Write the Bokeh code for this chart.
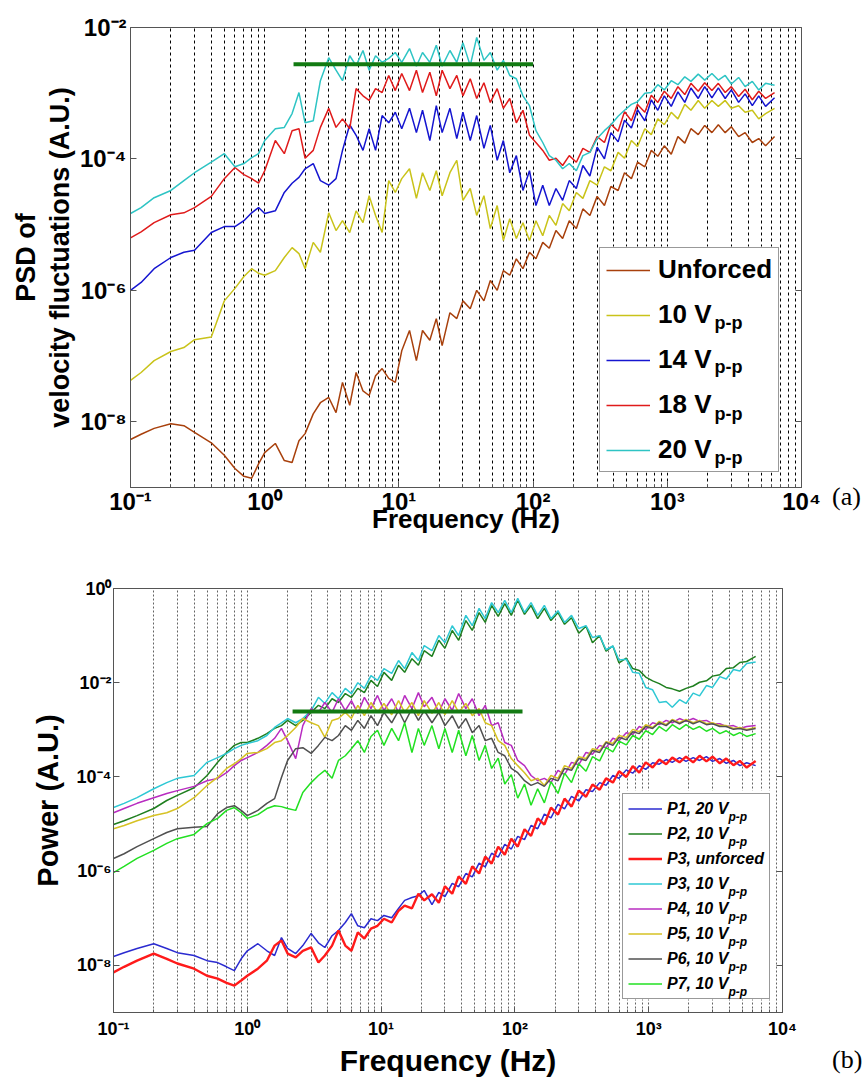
import numpy as np
from bokeh.plotting import figure
from bokeh.models import (Range1d, FixedTicker, CustomJSTickFormatter, LogAxis,
                          Legend, LegendItem, Label, Div, BoxAnnotation)
from bokeh.embed import file_html
from bokeh.resources import INLINE

# ---------------- data (frequency in Hz, spectra as log10 of the value) ----------------
freq_hz = [0.1, 0.12, 0.15, 0.2, 0.25, 0.3, 0.4, 0.5, 0.6, 0.7, 0.8, 0.9, 1.0, 1.2, 1.4, 1.6,
           1.8, 2.0, 2.3, 2.6, 3.0, 3.4, 3.8, 4.3, 4.8, 5.4, 6.0, 6.7, 7.5, 8.4, 9.4, 10.5,
           12, 13.5, 15, 17, 19, 21, 24, 27, 30, 34, 38, 43, 48, 54, 60, 67, 75, 84, 94,
           105, 118, 132, 148, 166, 186, 210, 235, 265, 300, 340, 380, 430, 480, 540, 600,
           680, 760, 850, 950, 1070, 1200, 1350, 1500, 1700, 1900, 2150, 2400, 2700, 3000,
           3400, 3800, 4300, 4800, 5400, 6300]

# panel (a): PSD of velocity fluctuations, log10
a_unforced = [-8.27, -8.19, -8.10, -8.03, -8.06, -8.16, -8.32, -8.51, -8.71, -8.83, -8.86, -8.64,
              -8.47, -8.33, -8.59, -8.62, -8.29, -8.18, -7.88, -7.71, -7.63, -7.86, -7.40, -7.75,
              -7.25, -7.53, -7.60, -7.30, -7.19, -7.34, -7.40, -6.92, -6.61, -7.07, -6.61, -6.76,
              -6.43, -6.84,
              -6.34, -6.43, -6.16, -6.28, -6.00, -6.16, -5.85, -6.00, -5.70, -5.77,
              -5.52, -5.67, -5.42, -5.52, -5.27, -5.36, -5.09, -5.21, -4.94, -5.06,
              -4.76, -4.86, -4.57, -4.71, -4.42, -4.48, -4.21, -4.30, -4.05, -4.12,
              -3.87, -3.96, -3.80, -3.93, -3.66, -3.76, -3.54, -3.63, -3.49, -3.60,
              -3.48, -3.60, -3.51, -3.66, -3.60, -3.75, -3.69, -3.80, -3.66]
a_10v = [-7.37, -7.25, -7.07, -6.93, -6.87, -6.75, -6.71, -6.16, -5.97, -5.79, -5.67, -5.74,
         -5.77, -5.70, -5.50, -5.35, -5.44, -5.67, -5.27, -5.42, -4.82, -5.09, -4.94, -5.12,
         -4.79, -4.97, -4.56, -4.86, -5.12, -4.33, -4.51, -4.30, -4.15, -4.60, -4.21, -4.48,
         -4.18, -4.56,
         -4.21, -4.02, -4.63, -4.45, -4.86, -4.56, -5.06, -4.71, -5.24, -4.91,
         -5.21, -4.97, -5.24, -4.94, -5.17, -4.86, -5.01, -4.68, -4.79, -4.51,
         -4.60, -4.33, -4.40, -4.12, -4.18, -3.90, -3.99, -3.72, -3.81, -3.54,
         -3.63, -3.39, -3.48, -3.29, -3.39, -3.17, -3.26, -3.11, -3.23, -3.11,
         -3.20, -3.11, -3.23, -3.19, -3.29, -3.26, -3.39, -3.31, -3.23]
a_14v = [-6.00, -5.88, -5.67, -5.50, -5.42, -5.39, -5.12, -5.03, -5.03, -4.94, -4.82, -4.74,
         -4.83, -4.79, -4.51, -4.37, -4.28, -4.15, -4.07, -4.33, -4.40, -4.30, -3.87, -3.48,
         -3.64, -3.87, -3.54, -3.87, -3.34, -3.45, -3.29, -3.54, -3.23, -3.60, -3.26, -3.72,
         -3.19, -3.60,
         -3.23, -3.69, -3.29, -3.72, -3.34, -3.84, -3.49, -4.02, -3.72, -4.21,
         -3.95, -4.48, -4.18, -4.71, -4.40, -4.71, -4.45, -4.63, -4.33, -4.45,
         -4.10, -4.26, -3.82, -4.00, -3.60, -3.74, -3.41, -3.53, -3.25, -3.42,
         -3.10, -3.26, -3.04, -3.20, -2.98, -3.14, -2.92, -3.08, -2.90, -3.07,
         -2.92, -3.08, -2.95, -3.14, -3.01, -3.19, -3.04, -3.20, -3.07]
a_18v = [-5.20, -5.11, -4.97, -4.85, -4.82, -4.74, -4.57, -4.30, -4.13, -4.24, -4.30, -4.37,
         -4.18, -3.72, -3.92, -3.57, -3.54, -3.99, -3.87, -3.52, -3.23, -3.52, -3.39, -3.54,
         -2.93, -3.04, -3.11, -2.93, -2.99, -2.73, -2.96, -2.70, -2.96, -2.65, -2.99, -2.68,
         -3.04, -2.65,
         -2.93, -2.73, -3.04, -2.78, -3.08, -2.84, -3.14, -2.93, -3.23, -3.08,
         -3.45, -3.26, -3.64, -3.75, -3.87, -4.02, -3.99, -4.10, -3.95, -4.05,
         -3.84, -3.90, -3.66, -3.75, -3.47, -3.58, -3.28, -3.42, -3.17, -3.29,
         -3.03, -3.14, -2.97, -3.08, -2.90, -3.02, -2.85, -2.97, -2.84, -2.96,
         -2.85, -2.99, -2.90, -3.05, -2.94, -3.10, -2.97, -3.08, -2.99]
a_20v = [-4.83, -4.74, -4.59, -4.48, -4.33, -4.21, -4.05, -3.92, -4.12, -4.07, -3.98, -3.92,
         -3.72, -3.54, -3.52, -3.31, -2.99, -3.45, -3.42, -2.81, -2.46, -2.65, -2.81, -2.43,
         -2.58, -2.35, -2.65, -2.43, -2.53, -2.47, -2.38, -2.53, -2.32, -2.59, -2.38, -2.53,
         -2.27, -2.59,
         -2.35, -2.53, -2.23, -2.58, -2.15, -2.50, -2.38, -2.65, -2.50, -2.73,
         -2.78, -3.04, -3.19, -3.57, -3.75, -3.95, -4.02, -4.15, -4.07, -4.18,
         -3.95, -3.90, -3.69, -3.57, -3.48, -3.35, -3.26, -3.17, -3.13, -3.00,
         -2.99, -2.87, -2.95, -2.81, -2.87, -2.75, -2.82, -2.71, -2.80, -2.70,
         -2.80, -2.73, -2.86, -2.76, -2.90, -2.82, -2.95, -2.85, -2.88]
a_plateau_hz = [1.64, 100.0]
a_plateau_psd = [2.75e-3, 2.75e-3]

# panel (b): power, log10
b_p1_20v = [-7.81, -7.73, -7.64, -7.54, -7.64, -7.73, -7.79, -7.90, -7.94, -8.03, -8.11, -7.86,
            -7.69, -7.54, -7.69, -7.79, -7.41, -7.64, -7.75, -7.58, -7.32, -7.52, -7.62, -7.37,
            -7.26, -7.09, -6.90, -7.16, -7.20, -7.01, -7.05, -6.94, -6.99, -6.79, -6.62, -6.56,
            -6.52, -6.41,
            -6.71, -6.45, -6.54, -6.26, -6.33, -6.05, -6.12, -5.83, -5.91, -5.62,
            -5.70, -5.43, -5.53, -5.26, -5.33, -5.03, -5.10, -4.79, -4.87, -4.58,
            -4.68, -4.41, -4.51, -4.27, -4.31, -4.12, -4.18, -3.97, -4.03, -3.85,
            -3.92, -3.76, -3.84, -3.70, -3.73, -3.63, -3.69, -3.59, -3.67, -3.59,
            -3.65, -3.57, -3.67, -3.61, -3.71, -3.65, -3.76, -3.70, -3.76]
b_p2_10v = [-5.01, -4.93, -4.82, -4.67, -4.50, -4.39, -4.23, -3.97, -3.69, -3.48, -3.33, -3.27,
            -3.27, -3.18, -3.08, -2.97, -2.91, -2.80, -2.91, -2.80, -2.63, -2.48, -2.55, -2.34,
            -2.42, -2.23, -2.31, -2.12, -2.21, -1.95, -2.08, -1.78, -1.95, -1.63, -1.78, -1.49,
            -1.63, -1.32,
            -1.44, -1.10, -1.27, -0.89, -1.10, -0.68, -0.89, -0.51, -0.72, -0.36,
            -0.59, -0.32, -0.57, -0.25, -0.55, -0.36, -0.64, -0.42, -0.68, -0.51,
            -0.76, -0.62, -0.95, -0.80, -1.15, -1.00, -1.33, -1.22, -1.58, -1.48,
            -1.70, -1.74, -1.88, -1.96, -2.02, -2.10, -2.13, -2.18, -2.12, -2.07,
            -1.99, -1.96, -1.86, -1.83, -1.70, -1.68, -1.57, -1.55, -1.44]
b_p3_unforced = [-8.15, -8.03, -7.90, -7.75, -7.86, -7.96, -8.07, -8.22, -8.28, -8.37, -8.43,
                 -8.32, -8.22, -8.07, -7.90, -7.58, -7.47, -7.75, -7.83, -7.69, -7.62, -7.94,
                 -7.79, -7.58, -7.26, -7.58, -7.69, -7.30, -7.43, -7.22, -7.16, -7.01, -7.09,
                 -6.84, -6.73, -6.79, -6.48, -6.62,
                 -6.49, -6.67, -6.32, -6.48, -6.11, -6.27, -5.90, -6.05, -5.69, -5.84,
                 -5.48, -5.65, -5.31, -5.48, -5.11, -5.25, -4.88, -5.01, -4.65, -4.80,
                 -4.46, -4.63, -4.29, -4.42, -4.16, -4.27, -4.03, -4.12, -3.88, -4.00,
                 -3.77, -3.91, -3.69, -3.80, -3.63, -3.73, -3.59, -3.69, -3.57, -3.69,
                 -3.55, -3.67, -3.57, -3.71, -3.61, -3.75, -3.66, -3.80, -3.66]
b_p3_10v = [-4.65, -4.56, -4.44, -4.25, -4.12, -4.03, -3.97, -3.69, -3.59, -3.50, -3.40, -3.33,
            -3.29, -3.23, -3.12, -2.95, -2.85, -2.76, -2.85, -2.76, -2.59, -2.31, -2.44, -2.21,
            -2.34, -2.12, -2.23, -2.00, -2.12, -1.85, -1.95, -1.70, -1.80, -1.53, -1.70, -1.36,
            -1.53, -1.21,
            -1.32, -1.00, -1.15, -0.79, -1.00, -0.57, -0.79, -0.42, -0.64, -0.30,
            -0.51, -0.25, -0.51, -0.21, -0.51, -0.30, -0.57, -0.36, -0.64, -0.47,
            -0.72, -0.57, -0.85, -0.79, -1.04, -1.00, -1.30, -1.22, -1.52, -1.50,
            -1.78, -1.80, -2.10, -2.15, -2.42, -2.40, -2.52, -2.36, -2.44, -2.22,
            -2.28, -2.06, -2.10, -1.87, -1.92, -1.72, -1.75, -1.59, -1.56]
b_p4_10v = [-4.76, -4.67, -4.56, -4.44, -4.35, -4.29, -4.20, -4.08, -4.03, -3.91, -3.76, -3.65,
            -3.59, -3.48, -3.33, -3.18, -2.97, -3.23, -3.61, -2.91, -2.55, -2.63, -2.42, -2.63,
            -2.34, -2.59, -2.38, -2.65, -2.31, -2.55, -2.27, -2.59, -2.34, -2.63, -2.27, -2.55,
            -2.21, -2.51,
            -2.31, -2.63, -2.34, -2.59, -2.23, -2.55, -2.34, -2.70, -2.48, -2.91,
            -2.85, -3.27, -3.33, -3.65, -3.76, -3.97, -4.08, -4.03, -4.12, -3.86,
            -3.95, -3.69, -3.74, -3.48, -3.52, -3.33, -3.38, -3.18, -3.23, -3.06,
            -3.10, -2.93, -2.99, -2.85, -2.89, -2.80, -2.85, -2.76, -2.82, -2.76,
            -2.82, -2.80, -2.87, -2.87, -2.93, -2.91, -2.97, -2.93, -2.91]
b_p5_10v = [-5.10, -5.03, -4.93, -4.82, -4.76, -4.67, -4.44, -4.18, -4.01, -3.82, -3.72, -3.61,
            -3.50, -3.48, -3.40, -3.27, -3.23, -3.12, -2.95, -2.76, -2.85, -2.91, -3.16, -2.80,
            -2.76, -2.63, -2.76, -2.48, -2.70, -2.42, -2.63, -2.44, -2.68, -2.38, -2.63, -2.42,
            -2.70, -2.38,
            -2.65, -2.42, -2.68, -2.38, -2.63, -2.44, -2.70, -2.55, -2.85, -2.91,
            -3.23, -3.33, -3.61, -3.76, -3.91, -4.08, -4.03, -4.18, -3.97, -4.03,
            -3.76, -3.82, -3.57, -3.61, -3.40, -3.44, -3.25, -3.29, -3.12, -3.16,
            -2.99, -3.04, -2.89, -2.95, -2.82, -2.89, -2.78, -2.85, -2.78, -2.85,
            -2.80, -2.87, -2.85, -2.91, -2.91, -2.97, -2.95, -2.99, -2.95]
b_p6_10v = [-5.73, -5.63, -5.48, -5.31, -5.18, -5.10, -5.07, -5.05, -4.78, -4.65, -4.61, -4.71,
            -4.82, -4.71, -4.56, -4.46, -4.01, -3.65, -3.40, -3.38, -3.50, -3.33, -3.16, -3.23,
            -3.12, -2.91, -3.01, -2.80, -2.97, -2.70, -2.91, -2.63, -2.85, -2.59, -2.85, -2.55,
            -2.80, -2.59,
            -2.85, -2.63, -2.91, -2.70, -2.97, -2.76, -3.06, -2.91, -3.23, -3.18,
            -3.48, -3.55, -3.82, -3.91, -4.08, -4.18, -4.12, -4.20, -4.03, -4.08,
            -3.82, -3.86, -3.61, -3.65, -3.44, -3.48, -3.27, -3.33, -3.16, -3.21,
            -3.04, -3.08, -2.93, -2.97, -2.85, -2.91, -2.80, -2.87, -2.80, -2.87,
            -2.82, -2.89, -2.87, -2.93, -2.93, -2.99, -2.97, -3.01, -2.97]
b_p7_10v = [-6.03, -5.90, -5.73, -5.56, -5.41, -5.31, -5.22, -4.99, -4.88, -4.71, -4.65, -4.76,
            -4.88, -4.80, -4.67, -4.61, -4.63, -4.67, -4.71, -4.33, -4.12, -3.97, -3.86, -4.03,
            -3.65, -3.55, -3.40, -3.23, -3.48, -3.14, -3.01, -3.33, -2.97, -3.23, -2.85, -3.48,
            -2.97, -3.33,
            -2.91, -3.40, -2.97, -3.48, -3.01, -3.55, -3.12, -3.65, -3.33, -3.82,
            -3.60, -4.15, -3.95, -4.45, -4.15, -4.60, -4.25, -4.55, -4.10, -4.35,
            -3.92, -4.12, -3.72, -3.88, -3.57, -3.66, -3.38, -3.47, -3.24, -3.32,
            -3.12, -3.20, -3.02, -3.10, -2.93, -3.03, -2.89, -2.99, -2.89, -2.99,
            -2.93, -3.03, -2.97, -3.08, -3.02, -3.12, -3.06, -3.14, -3.08]
b_plateau_hz = [2.18, 114.0]
b_plateau_power = [2.45e-3, 2.45e-3]

a_labels = ["Unforced", "10 V", "14 V", "18 V", "20 V"]
b_labels = ["P1, 20 V", "P2, 10 V", "P3, unforced", "P3, 10 V",
            "P4, 10 V", "P5, 10 V", "P6, 10 V", "P7, 10 V"]

x_major = [0.1, 1.0, 10.0, 100.0, 1000.0, 10000.0]
x_minor = [m * d for d in [0.1, 1.0, 10.0, 100.0, 1000.0] for m in range(2, 10)]
a_yticks = [1e-8, 1e-6, 1e-4, 1e-2]
b_yticks = [1e-8, 1e-6, 1e-4, 1e-2, 1e0]

FONT = "Liberation Sans"
SUP_JS = """
const e = Math.round(Math.log10(tick));
const m = {'-':'\u207b','0':'\u2070','1':'\u00b9','2':'\u00b2','3':'\u00b3','4':'\u2074',
           '5':'\u2075','6':'\u2076','7':'\u2077','8':'\u2078','9':'\u2079'};
let s = '';
for (const c of String(e)) { s += m[c]; }
return '10' + s;
"""


def style(p, yticks, tick_size, label_size_x, label_size_y, grid_color, grid_dash, grid_w,
          xs, ys, xls, yls, xlabel, ylabel):
    xt = FixedTicker(ticks=x_major, minor_ticks=x_minor)
    yt = FixedTicker(ticks=yticks, minor_ticks=[])
    xa = p.xaxis[0]
    ya = p.yaxis[0]
    xa.ticker = xt
    ya.ticker = yt
    p.xgrid.ticker = xt
    p.ygrid.visible = False
    p.xgrid.grid_line_color = grid_color
    p.xgrid.grid_line_dash = grid_dash
    p.xgrid.grid_line_width = grid_w
    p.xgrid.minor_grid_line_color = grid_color
    p.xgrid.minor_grid_line_dash = grid_dash
    p.xgrid.minor_grid_line_width = grid_w
    for ax in (xa, ya):
        ax.formatter = CustomJSTickFormatter(code=SUP_JS)
        ax.major_label_text_font = FONT
        ax.major_label_text_font_style = "bold"
        ax.major_label_text_font_size = tick_size
        ax.major_label_text_color = "black"
        ax.axis_label_text_font = FONT
        ax.axis_label_text_font_style = "bold"
        ax.axis_label_text_color = "black"
        ax.axis_line_color = "#555555"
        ax.major_tick_line_color = "#555555"
        ax.minor_tick_line_color = "#555555"
        ax.major_tick_in = 6
        ax.major_tick_out = 0
        ax.minor_tick_in = 3
        ax.minor_tick_out = 0
    ya.minor_tick_line_color = None
    xa.axis_label = xlabel
    ya.axis_label = ylabel
    xa.axis_label_text_font_size = label_size_x
    ya.axis_label_text_font_size = label_size_y
    ya.axis_label_text_line_height = 1.12
    xa.major_label_standoff = xs
    ya.major_label_standoff = ys
    xa.axis_label_standoff = xls
    ya.axis_label_standoff = yls
    right = LogAxis(ticker=yt, formatter=CustomJSTickFormatter(code="return '';"),
                    major_tick_in=6, major_tick_out=0, minor_tick_line_color=None,
                    axis_line_color="#555555", major_tick_line_color="#555555")
    p.add_layout(right, "right")
    p.outline_line_color = "#555555"
    p.outline_line_width = 1


f = np.array(freq_hz)

# ---------------- panel (a) ----------------
pa = figure(width=868, height=560, x_axis_type="log", y_axis_type="log",
            x_range=Range1d(0.1, 1e4), y_range=Range1d(1e-9, 1e-2),
            output_backend="svg", toolbar_location=None,
            min_border_left=130, min_border_right=67, min_border_top=27, min_border_bottom=73)
style(pa, a_yticks, "24px", "26px", "27px", "black", "3 3", 1, 0, 4, -14, 2,
      "Frequency (Hz)", "PSD of\nvelocity fluctuations (A.U.)")

a_series = [a_unforced, a_10v, a_14v, a_18v, a_20v]
a_colors = ["#a8400c", "#c9c31a", "#1515d0", "#e01b1b", "#2ec4c4"]
a_items = []
for lab, s, c in zip(a_labels, a_series, a_colors):
    r = pa.line(f, np.power(10.0, np.array(s)), line_color=c, line_width=1.5)
    a_items.append(LegendItem(label=lab, renderers=[r]))
pa.line(a_plateau_hz, a_plateau_psd, line_color="#127a12", line_width=4)


def a_pos(px, py):
    return 10 ** ((px - 130) / 134.2 - 1), 10 ** (-2 - (py - 27) / 65.714)


# white backing of the legend box (hides the grid), then the subscripts, then the legend
l0, b0 = a_pos(600, 472)
r0, t0 = a_pos(779, 246)
pa.add_layout(BoxAnnotation(left=l0, right=r0, bottom=b0, top=t0, fill_color="white",
                            fill_alpha=1.0, line_color=None))
for py in [322, 366, 413, 457]:
    x, y = a_pos(714, py)
    pa.add_layout(Label(x=x, y=y, text="p-p", text_font=FONT, text_font_style="bold",
                        text_font_size="18px", text_baseline="middle", text_align="left",
                        text_color="black"))

leg_a = Legend(items=a_items, location=(469, 15), label_text_font=FONT,
               label_text_font_style="bold", label_text_font_size="26px",
               label_text_color="black",
               glyph_width=44, glyph_height=30, label_height=30, label_standoff=8,
               spacing=14, padding=6, margin=0, border_line_color="#333333",
               border_line_width=1.5, background_fill_alpha=0.0)
pa.add_layout(leg_a)

# ---------------- panel (b) ----------------
pb = figure(width=868, height=520, x_axis_type="log", y_axis_type="log",
            x_range=Range1d(0.1, 1e4), y_range=Range1d(1e-9, 1.0),
            output_backend="svg", toolbar_location=None,
            min_border_left=113, min_border_right=86, min_border_top=28, min_border_bottom=68)
style(pb, b_yticks, "18px", "30px", "29px", "#3c3c3c", "2 2", 0.8, 6, 2, 2, 10,
      "Frequency (Hz)", "Power (A.U.)")

b_series = [b_p1_20v, b_p2_10v, b_p3_unforced, b_p3_10v, b_p4_10v, b_p5_10v, b_p6_10v, b_p7_10v]
b_colors = ["#2b2bd0", "#1f7f1f", "#ff1a1a", "#2ec8d4", "#b82cc0", "#d6c224", "#505050", "#22e022"]
b_widths = [1.5, 1.5, 2.4, 1.5, 1.5, 1.5, 1.5, 1.5]
b_items = []
for lab, s, c, w in zip(b_labels, b_series, b_colors, b_widths):
    r = pb.line(f, np.power(10.0, np.array(s)), line_color=c, line_width=w)
    b_items.append(LegendItem(label=lab, renderers=[r]))
pb.line(b_plateau_hz, b_plateau_power, line_color="#127a12", line_width=4)


def b_pos(px, py):
    return 10 ** ((px - 113) / 133.8 - 1), 10 ** (-(py - 588) / 47.11)


l1, b1 = b_pos(622, 999)
r1, t1 = b_pos(770, 790)
pb.add_layout(BoxAnnotation(left=l1, right=r1, bottom=b1, top=t1, fill_color="white",
                            fill_alpha=1.0, line_color=None))
rows_b = [810 + 25 * i for i in range(8)]
for i, py in enumerate(rows_b):
    if i == 2:
        continue
    x, y = b_pos(728, py + 6)
    pb.add_layout(Label(x=x, y=y, text="p-p", text_font=FONT, text_font_style="bold italic",
                        text_font_size="12px", text_baseline="middle", text_align="left",
                        text_color="black"))

leg_b = Legend(items=b_items, location=(509, 13), label_text_font=FONT,
               label_text_font_style="bold italic", label_text_font_size="16px",
               label_text_color="black",
               glyph_width=34, glyph_height=19, label_height=19, label_standoff=5,
               spacing=6, padding=5, margin=0, border_line_color="#333333",
               border_line_width=1.2, background_fill_alpha=0.0)
pb.add_layout(leg_b)

# panel tags "(a)" and "(b)", outside the plot frames
tag_style = {"position": "absolute", "margin": "0", "padding": "0",
             "font-family": "'Liberation Serif', serif", "font-size": "26px",
             "line-height": "30px", "color": "black"}
tag_a = Div(text="(a)", width=40, height=30, styles=dict(tag_style, left="832px", top="482px"))
tag_b = Div(text="(b)", width=40, height=30, styles=dict(tag_style, left="832px", top="1045px"))

open("out.html", "w").write(file_html([pa, pb, tag_a, tag_b], INLINE))
